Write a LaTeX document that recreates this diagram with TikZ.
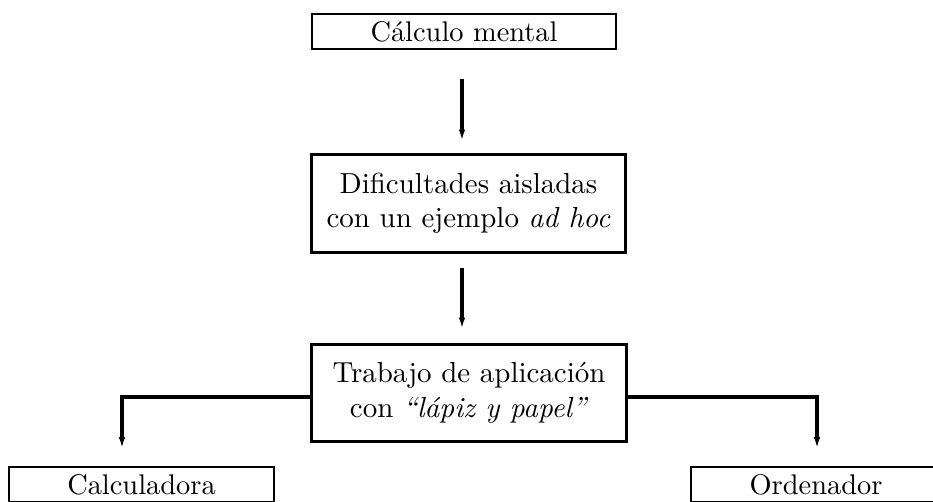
\documentclass[tikz,border=0pt]{standalone}
\usetikzlibrary{arrows.meta}
\def\px{0.352pt}
\begin{document}
\begin{tikzpicture}[x=0.352pt,y=-0.352pt,
  box/.style={draw,line width=1pt,inner sep=0pt,align=center,font=\fontsize{10}{12}\selectfont},
  bigbox/.style={draw,line width=1.2pt,inner sep=0pt,align=center,font=\fontsize{10.2}{12.1}\selectfont},
  arr/.style={line width=1.5pt,-{Latex[length=4pt,width=2.3pt]}}]
\useasboundingbox (0,0) rectangle (933,501);
\clip (0,0) rectangle (933,501);
\node[box,minimum width=304*\px,minimum height=35*\px] (top) at (464,31.5) {Cálculo mental};
\node[bigbox,minimum width=314*\px,minimum height=98*\px] (mid1) at (468.5,203.5) {Dificultades aisladas\\con un ejemplo \textit{ad hoc}};
\node[bigbox,minimum width=315*\px,minimum height=97*\px] (mid2) at (469,393) {Trabajo de aplicación\\con \textit{“lápiz y papel”}};
\node[box,minimum width=265*\px,minimum height=35*\px] (calc) at (141.5,484.5) {Calculadora};
\node[box,minimum width=250*\px,minimum height=35*\px] (orde) at (816,484.5) {Ordenador};
\coordinate (ax) at (462,0);
\coordinate (bl) at (122,397);
\coordinate (br) at (817,397);
\draw[arr,shorten <=10pt,shorten >=4.2pt] (top.south -| ax) -- (mid1.north -| ax);
\draw[arr,shorten <=4.9pt,shorten >=4.9pt] (mid1.south -| ax) -- (mid2.north -| ax);
\draw[arr,shorten >=6pt] (mid2.west |- bl) -- (bl) -- (calc.north -| bl);
\draw[arr,shorten >=6pt] (mid2.east |- br) -- (br) -- (orde.north -| br);
\end{tikzpicture}
\end{document}
